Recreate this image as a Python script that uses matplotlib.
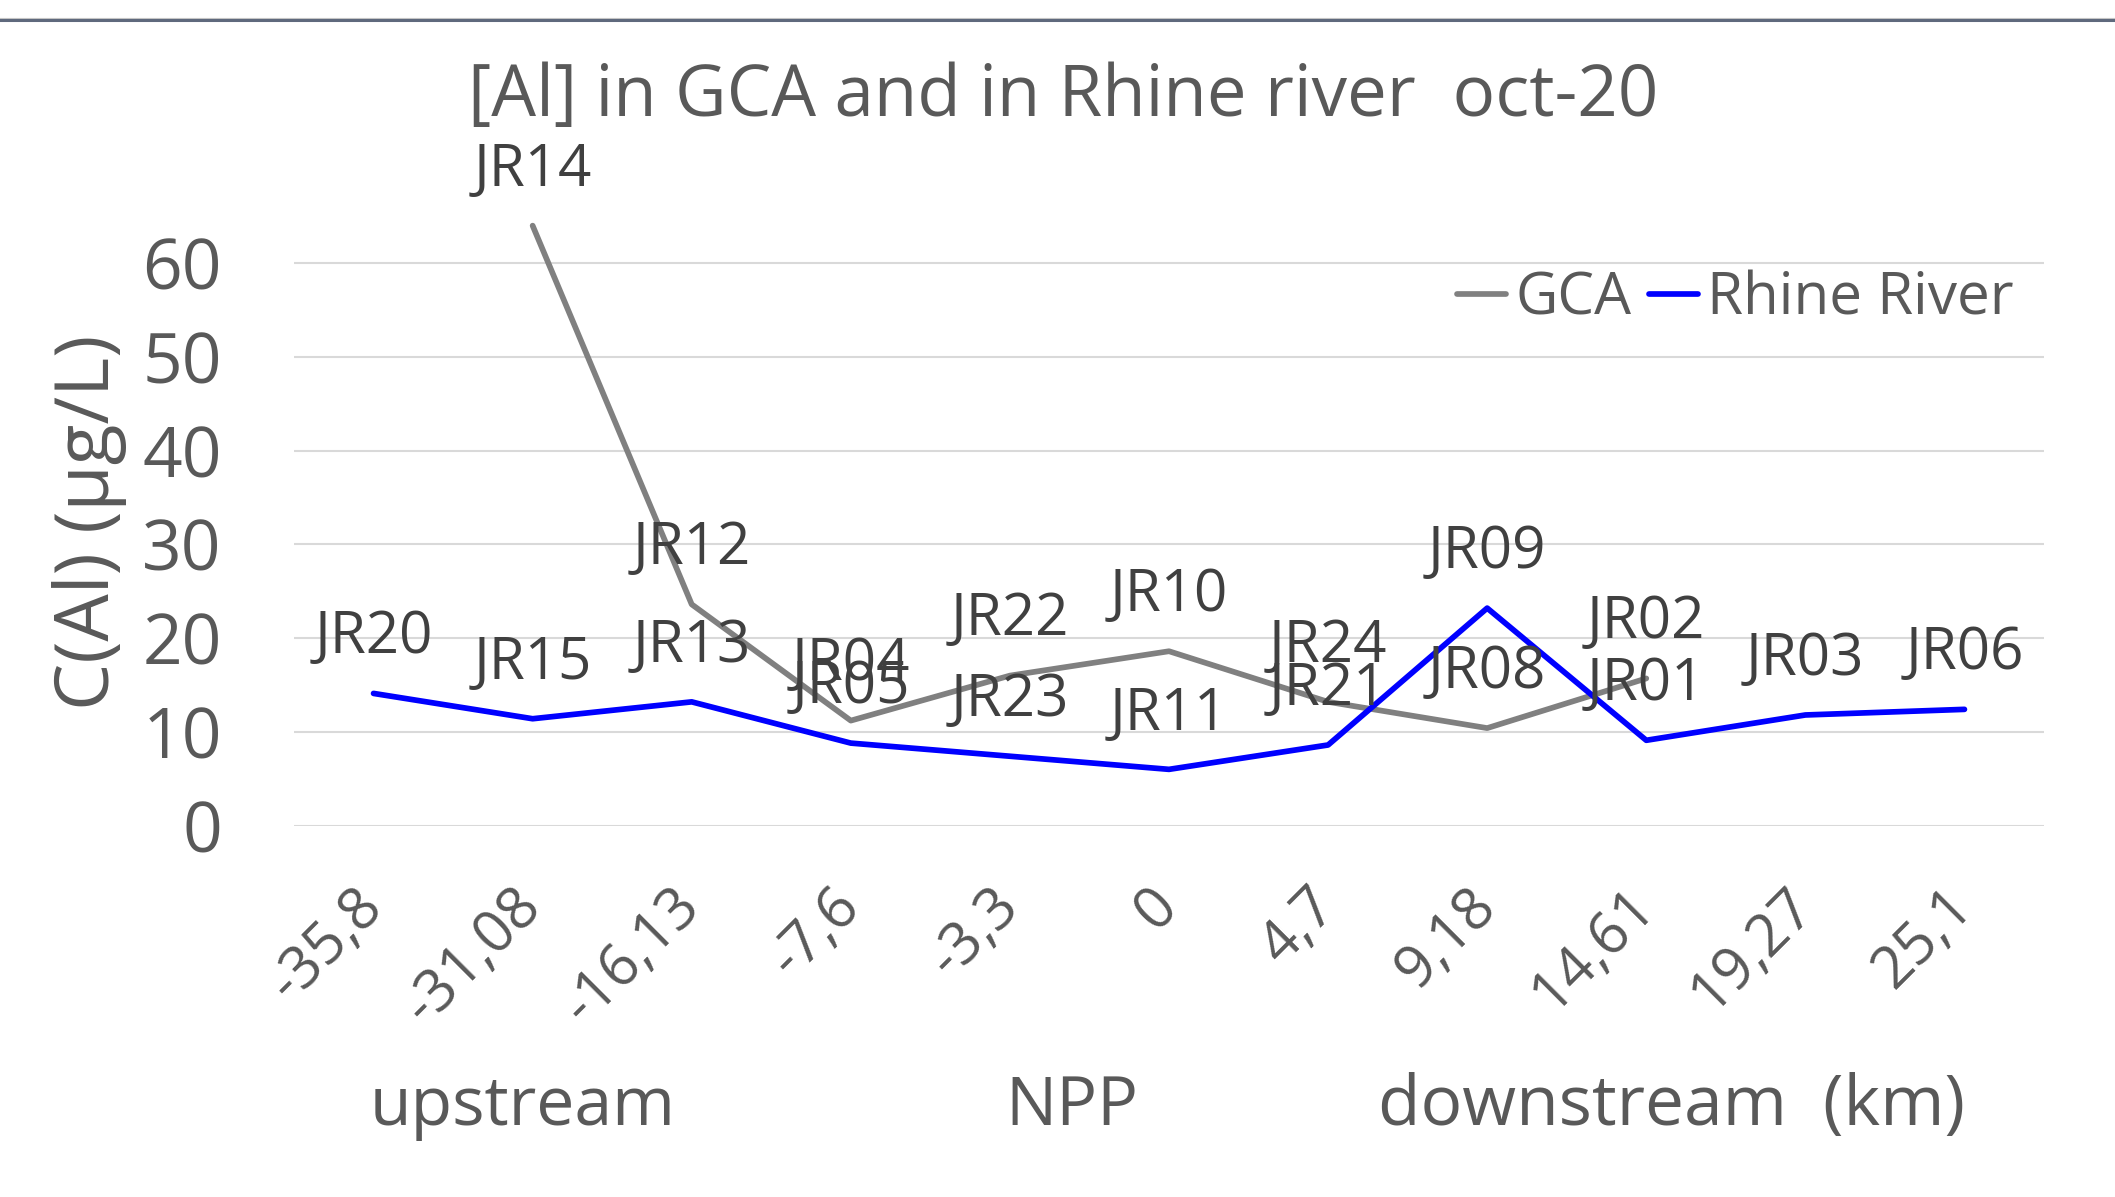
import numpy as np
import matplotlib
matplotlib.use("Agg")
import matplotlib.pyplot as plt
from matplotlib.lines import Line2D

plt.rcParams['font.family'] = ['Open Sans', 'DejaVu Sans']

categories = ["-35,8", "-31,08", "-16,13", "-7,6", "-3,3", "0", "4,7", "9,18", "14,61", "19,27", "25,1"]
gca_values = [np.nan, 64.0, 23.6, 11.2, 16.0, 18.6, 13.2, 10.4, 15.7, np.nan, np.nan]
gca_labels = [None, "JR14", "JR12", "JR04", "JR22", "JR10", "JR24", "JR08", "JR02", None, None]
rhine_values = [14.1, 11.4, 13.2, 8.8, 7.4, 6.0, 8.6, 23.2, 9.1, 11.8, 12.4]
rhine_labels = ["JR20", "JR15", "JR13", "JR05", "JR23", "JR11", "JR21", "JR09", "JR01", "JR03", "JR06"]
yticks = [0, 10, 20, 30, 40, 50, 60]

W, H = 2115, 1197
fig = plt.figure(figsize=(W / 100, H / 100), dpi=100)
ax = fig.add_axes([294 / W, 1 - 825.6 / H, (2044 - 294) / W, (825.6 - 169.4) / H])

x = np.arange(len(categories))
ax.plot(x, gca_values, color='#808080', lw=4.1, label='GCA', solid_capstyle='round', clip_on=False, zorder=3)
ax.plot(x, rhine_values, color='#0000FF', lw=4.1, label='Rhine River', solid_capstyle='round', clip_on=False, zorder=4)

for xi, v, lab in zip(x, gca_values, gca_labels):
    if lab is not None and not np.isnan(v):
        ax.annotate(lab, (xi, v), xytext=(0, 40), textcoords='offset points',
                    ha='center', va='center', fontsize=42, color='#404040', zorder=6,
                    annotation_clip=False)
for xi, v, lab in zip(x, rhine_values, rhine_labels):
    ax.annotate(lab, (xi, v), xytext=(0, 40), textcoords='offset points',
                ha='center', va='center', fontsize=42, color='#404040', zorder=6,
                annotation_clip=False)

ax.set_xlim(-0.5, len(categories) - 0.5)
ax.set_ylim(0, 70)
ax.set_yticks(yticks)
ax.set_yticklabels([str(t) for t in yticks])
ax.yaxis.grid(True, color='#D9D9D9', lw=1.5)
ax.set_axisbelow(True)
for s in ax.spines.values():
    s.set_visible(False)
ax.tick_params(axis='y', length=0, pad=52, labelsize=50, labelcolor='#595959')
ax.set_xticks(x)
ax.set_xticklabels(categories, rotation=45, ha='right', rotation_mode='anchor')
ax.tick_params(axis='x', length=0, pad=52, labelsize=42, labelcolor='#595959')
for lbl in ax.get_xticklabels():
    lbl.set_va('center')

leg = ax.legend(loc='center right', bbox_to_anchor=(0.996, 0.8025), ncol=2, frameon=False,
                fontsize=42, handlelength=0.85, handletextpad=0.15, columnspacing=0.3,
                labelcolor='#595959', borderaxespad=0)

fig.text(1063 / W, 1 - 97 / H, "[Al] in GCA and in Rhine river  oct-20", ha='center', va='center',
         fontsize=51, color='#595959')
fig.text(90 / W, 1 - 522 / H, "C(Al) (µg/L)", rotation=90, ha='center', va='center',
         fontsize=54, color='#595959')
fig.text(523 / W, 1 - 1107 / H, "upstream", ha='center', va='center', fontsize=49, color='#595959')
fig.text(1072 / W, 1 - 1107 / H, "NPP", ha='center', va='center', fontsize=49, color='#595959')
fig.text(1671 / W, 1 - 1107 / H, "downstream  (km)", ha='center', va='center', fontsize=50, color='#595959')

fig.add_artist(Line2D([0, 1], [1 - 18 / H, 1 - 18 / H], transform=fig.transFigure, color='#C8C8C8', lw=0.8))
fig.add_artist(Line2D([0, 1], [1 - 20 / H, 1 - 20 / H], transform=fig.transFigure, color='#5F697D', lw=2.2))

fig.savefig("out.png", dpi=100)
